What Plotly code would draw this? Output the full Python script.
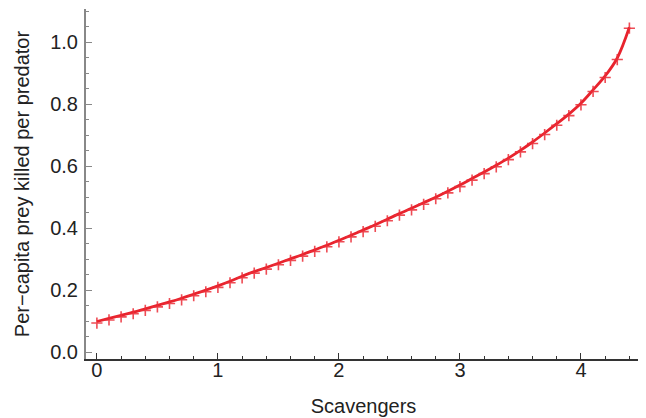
import plotly.graph_objects as go

scavengers = [0.0, 0.1, 0.2, 0.3, 0.4, 0.5, 0.6, 0.7, 0.8, 0.9,
              1.0, 1.1, 1.2, 1.3, 1.4, 1.5, 1.6, 1.7, 1.8, 1.9,
              2.0, 2.1, 2.2, 2.3, 2.4, 2.5, 2.6, 2.7, 2.8, 2.9,
              3.0, 3.1, 3.2, 3.3, 3.4, 3.5, 3.6, 3.7, 3.8, 3.9,
              4.0, 4.1, 4.2, 4.3, 4.4]

kill_rate_model = [0.100, 0.110, 0.120, 0.130, 0.141, 0.152, 0.163, 0.175, 0.188, 0.201,
                   0.215, 0.230, 0.246, 0.261, 0.274, 0.288, 0.302, 0.316, 0.331, 0.346,
                   0.362, 0.378, 0.395, 0.412, 0.430, 0.448, 0.465, 0.483, 0.501, 0.520,
                   0.540, 0.561, 0.582, 0.604, 0.627, 0.652, 0.679, 0.708, 0.738, 0.769,
                   0.804, 0.847, 0.892, 0.950, 1.049]

kill_rate_sim = [0.095, 0.105, 0.115, 0.125, 0.136, 0.147, 0.158, 0.170, 0.183, 0.196,
                 0.210, 0.225, 0.241, 0.256, 0.269, 0.283, 0.297, 0.311, 0.326, 0.341,
                 0.357, 0.373, 0.390, 0.407, 0.425, 0.443, 0.460, 0.478, 0.496, 0.515,
                 0.535, 0.556, 0.577, 0.599, 0.622, 0.647, 0.674, 0.703, 0.733, 0.764,
                 0.799, 0.842, 0.887, 0.945, 1.046]

red = "rgb(232,35,45)"

fig = go.Figure()
fig.add_trace(go.Scatter(x=scavengers, y=kill_rate_model, mode="lines",
                         line=dict(color=red, width=2.8, shape="spline"),
                         showlegend=False, hoverinfo="skip"))
fig.add_trace(go.Scatter(x=scavengers, y=kill_rate_sim, mode="markers",
                         marker=dict(symbol="cross-thin", size=8, color=red,
                                     line=dict(color="rgba(235,45,55,0.85)", width=1.6)),
                         showlegend=False))

fnt = dict(family="Liberation Sans, Arial, sans-serif", size=20, color="#222")

fig.update_layout(
    width=638, height=410,
    margin=dict(l=78, r=5, t=1, b=59, autoexpand=False),
    paper_bgcolor="white", plot_bgcolor="white",
    font=fnt,
    xaxis=dict(range=[-0.09, 4.496], tickmode="array", tickvals=[0, 1, 2, 3, 4],
               ticktext=["0", "1", "2", "3", "4"],
               ticks="inside", ticklen=6, tickwidth=1.2, tickcolor="#333",
               showline=True, linecolor="#333", linewidth=1.6, showgrid=False, zeroline=False,
               minor=dict(dtick=0.2, tick0=0, ticks="inside", ticklen=3, tickcolor="#333", showgrid=False),
               title=dict(text="Scavengers", font=fnt, standoff=19),
               ticklabelstandoff=-8,
               tickfont=fnt, automargin=False),
    yaxis=dict(range=[-0.021, 1.108], tickmode="array",
               tickvals=[0, 0.2, 0.4, 0.6, 0.8, 1.0],
               ticktext=["0.0", "0.2", "0.4", "0.6", "0.8", "1.0"],
               ticks="inside", ticklen=6, tickwidth=1.2, tickcolor="#888",
               showline=True, linecolor="#888", linewidth=2, showgrid=False, zeroline=False,
               minor=dict(dtick=0.05, tick0=0, ticks="inside", ticklen=3, tickcolor="#888", showgrid=False),
               title=dict(text="Per\u2212capita prey killed per predator", font=fnt, standoff=15),
               ticklabelstandoff=2,
               tickfont=fnt, automargin=False),
)

fig.write_html("out.html")
